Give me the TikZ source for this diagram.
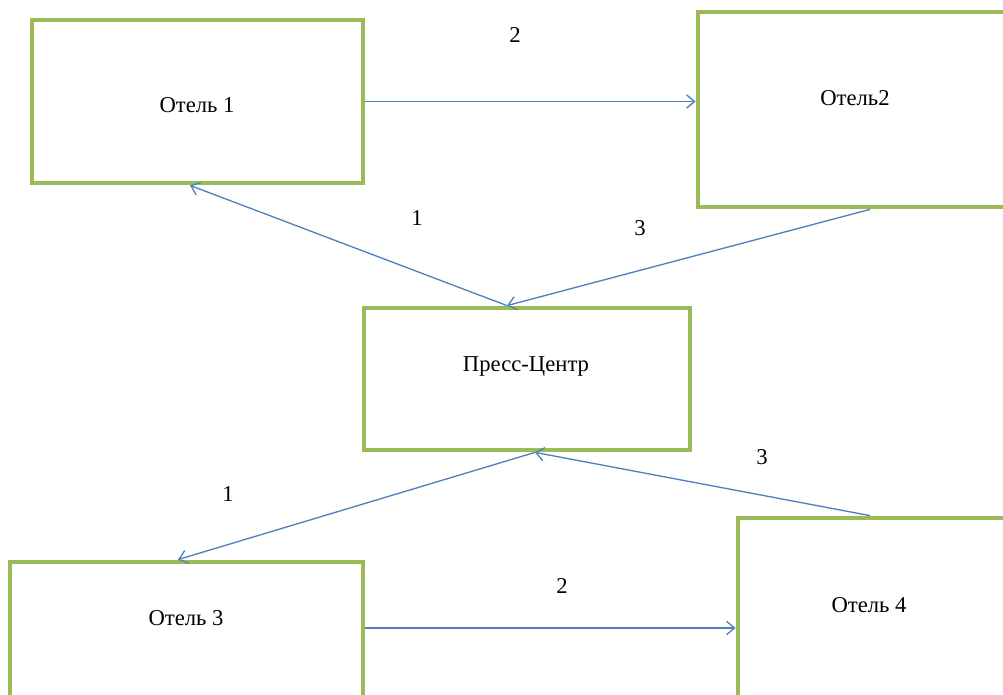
\documentclass[tikz,border=0pt]{standalone}
\usepackage{fontspec}
\setmainfont{Liberation Serif}
\usetikzlibrary{arrows.meta, calc}
\definecolor{boxgreen}{HTML}{9BBB59}
\definecolor{arrblue}{HTML}{4F81BD}

\begin{document}
\begin{tikzpicture}[
  x=0.75pt, y=-0.75pt,
  every node/.style={font=\fontsize{17}{19}\selectfont},
  hotel/.style={rectangle, draw=boxgreen, line width=3.6pt, inner sep=0pt},
  num/.style={inner sep=1pt},
  arr/.style={-{Straight Barb[length=6pt, width=10pt]}, draw=arrblue, line width=1pt},
]
\useasboundingbox (0,0) rectangle (1003,695);

% Boxes
\node[hotel, minimum width=248.25pt, minimum height=122.25pt] (h1) at (197.5,101.5) {};
\node[hotel, minimum width=235.5pt, minimum height=146.25pt] (h2) at (855,109.5) {};
\node[hotel, minimum width=244.5pt, minimum height=106.5pt] (press) at (527,379) {};
\node[hotel, minimum width=264.75pt, minimum height=126pt] (h3) at (186.5,646) {};
\node[hotel, minimum width=204pt, minimum height=159pt] (h4) at (874,624) {};

% Box texts
\node (t1) at (197,105) {Отель 1};
\node (t2) at (855,98) {Отель2};
\node (tp) at (526,366) {Пресс-Центр};
\node (t3) at (186,618) {Отель 3};
\node (t4) at (869,605) {Отель 4};

% Arrows - top
\draw[arr] (h1.east) -- (h1.east -| h2.west);
\draw[arr] ([xshift=-15pt]press.north) -- ([xshift=-5.6pt]h1.south);
\draw[arr] ([xshift=11.25pt]h2.south) -- ([xshift=-15pt]press.north);

% Arrows - bottom
\draw[arr] ([xshift=6pt]press.south) -- ([xshift=-6.4pt]h3.north);
\draw[arr] ([xshift=-3pt]h4.north) -- ([xshift=6pt]press.south);
\draw[arr] ([yshift=13.5pt]h3.east) -- ([yshift=13.5pt]h3.east -| h4.west);

% Step numbers
\node[num] (n12) at (515,35) {2};
\node[num] (n1p) at (417,218) {1};
\node[num] (n2p) at (640,228) {3};
\node[num] (np3) at (228,494) {1};
\node[num] (n4p) at (762,457) {3};
\node[num] (n34) at (562,586) {2};
\end{tikzpicture}
\end{document}
